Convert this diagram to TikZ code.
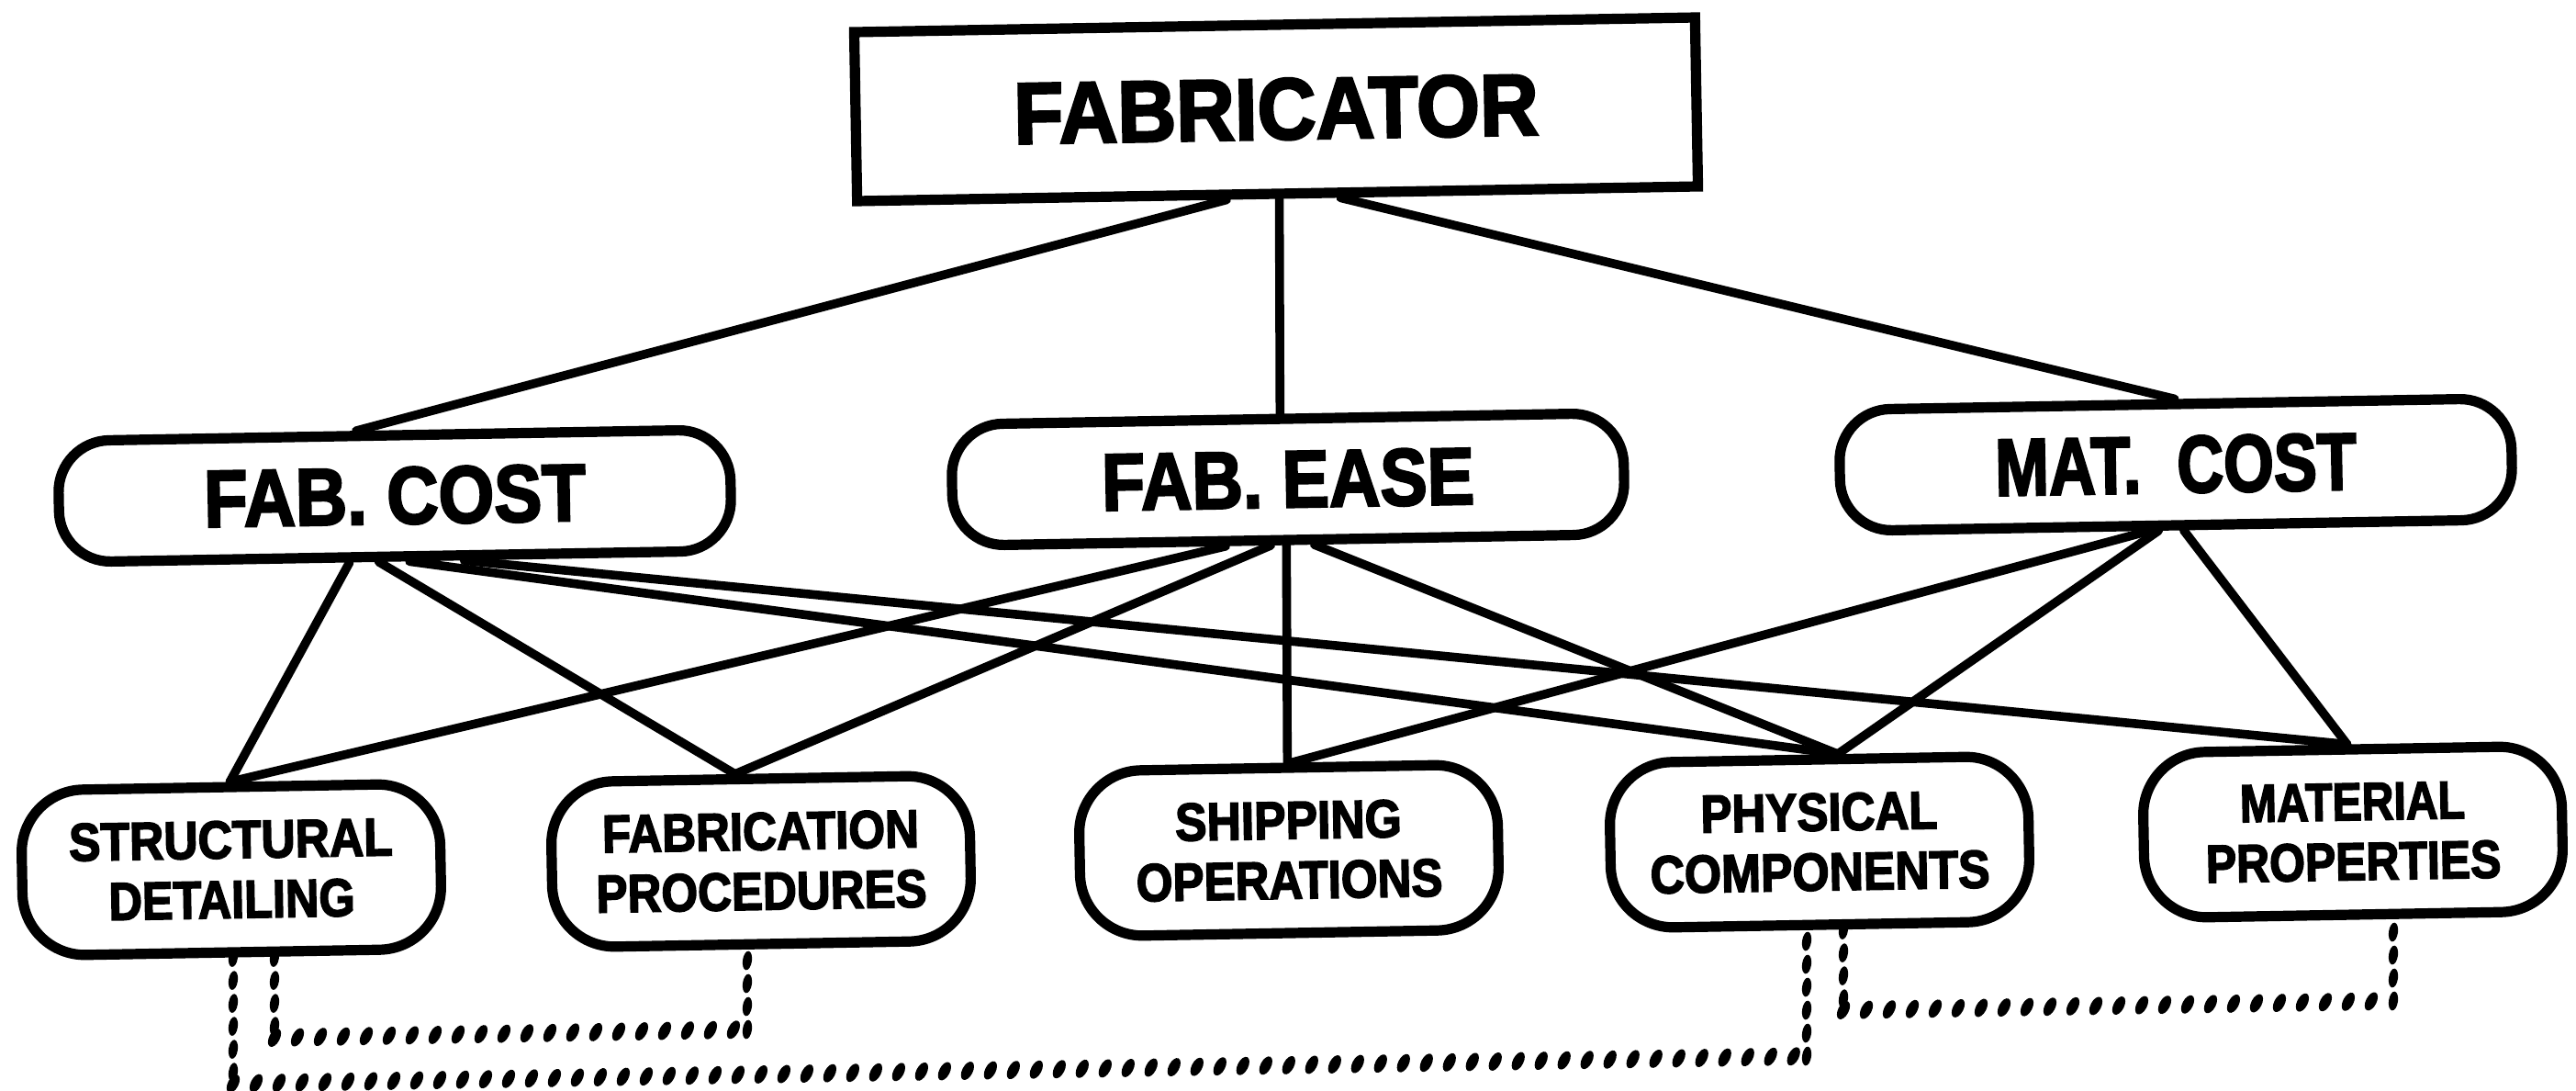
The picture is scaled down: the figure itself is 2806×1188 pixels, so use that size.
\documentclass[tikz,border=0pt]{standalone}
\usepackage{fontspec}
\usepackage{graphicx}
\setmainfont{Liberation Sans}[BoldFeatures={FakeBold=3}]
\usetikzlibrary{calc,decorations.markings}

% horizontally condensed lettering
\newcommand{\sx}[2]{\scalebox{#1}[1]{#2}}

\tikzset{
  headbox/.style={draw, line width=2.8pt, rotate=1, minimum width=229pt,
    minimum height=46pt, inner sep=0pt,
    font=\fontsize{23.7}{26}\selectfont\bfseries},
  midbox/.style={draw, line width=2.8pt, rounded corners=14pt, rotate=1,
    minimum width=183pt, minimum height=33pt, inner sep=0pt,
    font=\fontsize{22}{24}\selectfont\bfseries},
  lowbox/.style={draw, line width=2.8pt, rounded corners=17pt, rotate=1,
    minimum width=114pt, minimum height=45pt, inner sep=0pt, align=center,
    font=\fontsize{14.5}{16.3}\selectfont\bfseries},
  link/.style={line width=2.4pt, line cap=round},
  hblobs/.style={decorate, decoration={markings,
    mark=between positions 0 and 1 step 6.25pt with
      {\fill[rotate=62] (0,0) ellipse [x radius=2.7pt, y radius=1.45pt];}}},
  vblobs/.style={decorate, decoration={markings,
    mark=between positions 0 and 1 step 6.25pt with
      {\fill[rotate=-8] (0,0) ellipse [x radius=2.6pt, y radius=1.25pt];}}}
}

\begin{document}
\begin{tikzpicture}[x=0.25pt, y=-0.25pt]
\fill[white] (0,0) rectangle (2806,1188);
\useasboundingbox (0,0) rectangle (2806,1188);

% top level
\node[headbox] (fab) at (1390,119) {\sx{0.933}{FABRICATOR}};

% criteria
\node[midbox] (fc) at (430,540) {\sx{0.886}{FAB. COST}};
\node[midbox] (fe) at (1403,522) {\sx{0.874}{FAB. EASE}};
\node[midbox] (mc) at (2370,506) {\sx{0.8}{MAT.\ \ COST}};

% attributes
\node[lowbox] (st) at (252,947) {\sx{0.89}{STRUCTURAL}\\\sx{0.87}{DETAILING}};
\node[lowbox] (fp) at (829,938) {\sx{0.88}{FABRICATION}\\\sx{0.88}{PROCEDURES}};
\node[lowbox] (sh) at (1404,926) {\sx{0.89}{SHIPPING}\\\sx{0.88}{OPERATIONS}};
\node[lowbox] (ph) at (1982,917) {\sx{0.88}{PHYSICAL}\\\sx{0.89}{COMPONENTS}};
\node[lowbox] (mp) at (2563,906) {\sx{0.83}{MATERIAL}\\\sx{0.86}{PROPERTIES}};

% fabricator to criteria
\draw[link] ($(fab.south west)!0.44!(fab.south east)$) -- ($(fc.north west)!0.445!(fc.north east)$);
\draw[link] ($(fab.south west)!0.502!(fab.south east)$) -- ($(fe.north west)!0.49!(fe.north east)$);
\draw[link] ($(fab.south west)!0.574!(fab.south east)$) -- ($(mc.north west)!0.5!(mc.north east)$);

% fab. cost
\draw[link] ($(fc.south west)!0.432!(fc.south east)$) -- (st.north);
\draw[link] ($(fc.south west)!0.475!(fc.south east)$) -- ($(fp.north west)!0.443!(fp.north east)$);
\draw[link] ($(fc.south west)!0.52!(fc.south east)$) -- ($(ph.north west)!0.546!(ph.north east)$);
\draw[link] ($(fc.south west)!0.60!(fc.south east)$) -- ($(mp.north west)!0.49!(mp.north east)$);

% fab. ease
\draw[link] ($(fe.south west)!0.407!(fe.south east)$) -- (st.north);
\draw[link] ($(fe.south west)!0.473!(fe.south east)$) -- ($(fp.north west)!0.443!(fp.north east)$);
\draw[link] ($(fe.south west)!0.496!(fe.south east)$) -- (sh.north);
\draw[link] ($(fe.south west)!0.537!(fe.south east)$) -- ($(ph.north west)!0.546!(ph.north east)$);

% mat. cost
\draw[link] ($(mc.south west)!0.459!(mc.south east)$) -- ($(sh.north west)!0.51!(sh.north east)$);
\draw[link] ($(mc.south west)!0.473!(mc.south east)$) -- ($(ph.north west)!0.546!(ph.north east)$);
\draw[link] ($(mc.south west)!0.51!(mc.south east)$) -- ($(mp.north west)!0.49!(mp.north east)$);

% interdependencies between attributes
\coordinate (d1a) at (254,1180);
\coordinate (d1b) at (1968,1150);
\coordinate (d2a) at (299,1130);
\coordinate (d2b) at (814,1121);
\coordinate (d3a) at (2008,1100);
\coordinate (d3b) at (2607,1090);

\path[vblobs] (d1a |- st.south) -- (d1a);
\path[hblobs] (d1a) -- (d1b);
\path[vblobs] (d1b) -- (d1b |- ph.south);

\path[vblobs] (d2a |- st.south) -- (d2a);
\path[hblobs] (d2a) -- (d2b);
\path[vblobs] (d2b) -- (d2b |- fp.south);

\path[vblobs] (d3a |- ph.south) -- (d3a);
\path[hblobs] (d3a) -- (d3b);
\path[vblobs] (d3b) -- (d3b |- mp.south);
\end{tikzpicture}
\end{document}
